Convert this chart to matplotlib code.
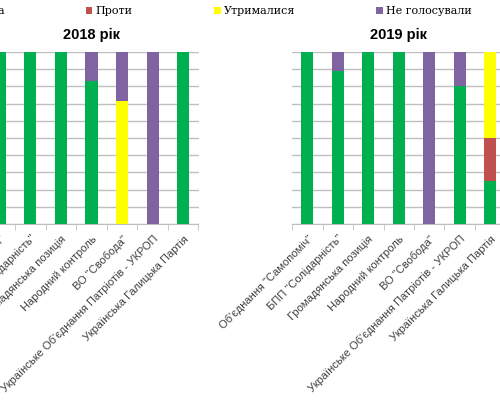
import matplotlib
matplotlib.use("Agg")
import matplotlib.pyplot as plt
import numpy as np

parties = ['Об\'єднання "Самопоміч"', 'БПП "Солідарність"', 'Громадянська позиція',
           'Народний контроль', 'ВО "Свобода"', 'Українське Об\'єднання Патріотів - УКРОП',
           'Українська Галицька Партія']
labels = ['За', 'Проти', 'Утрималися', 'Не голосували']
colors = ['#00B050', '#C0504D', '#FFFF00', '#8064A2']

# shares, %
za_2018 = [100, 100, 100, 83.3, 0, 0, 100]
proty_2018 = [0, 0, 0, 0, 0, 0, 0]
utr_2018 = [0, 0, 0, 0, 71.4, 0, 0]
ne_2018 = [0, 0, 0, 16.7, 28.6, 100, 0]

za_2019 = [100, 88.9, 100, 100, 0, 80, 25]
proty_2019 = [0, 0, 0, 0, 0, 0, 25]
utr_2019 = [0, 0, 0, 0, 0, 0, 50]
ne_2019 = [0, 11.1, 0, 0, 100, 20, 0]

sans = ['Liberation Sans', 'DejaVu Sans']

fig = plt.figure(figsize=(5, 4), dpi=100)
fig.patch.set_facecolor('white')


def draw(ax, series, title):
    x = np.arange(len(parties))
    bottom = np.zeros(len(parties))
    bars = []
    for vals, c, lab in zip(series, colors, labels):
        b = ax.bar(x, vals, 0.4, bottom=bottom, color=c, label=lab, zorder=3)
        bars.append(b)
        bottom += np.array(vals)
    ax.set_xlim(-0.5, len(parties) - 0.5)
    ax.set_ylim(0, 100)
    ax.set_yticks(np.arange(0, 101, 10))
    ax.yaxis.grid(True, color='#BFBFBF', lw=1)
    ax.set_axisbelow(True)
    ax.tick_params(axis='y', left=False, labelleft=False)
    for s in ['left', 'right', 'top']:
        ax.spines[s].set_visible(False)
    ax.spines['bottom'].set_color('#BFBFBF')
    ax.set_xticks(x)
    ax.set_xticklabels(parties, rotation=45, ha='right', va='top',
                       rotation_mode='anchor', family=sans, fontsize=8,
                       color='#404040')
    ax.tick_params(axis='x', length=0, pad=7)
    ax.set_xticks(np.arange(-0.5, len(parties), 1), minor=True)
    ax.tick_params(axis='x', which='minor', length=4, color='#BFBFBF')
    ax.set_title(title, fontweight='bold', fontsize=10.5, family=sans, pad=9)
    return bars


ax1 = fig.add_axes([-15.5 / 500, 176 / 400, 214 / 500, 172 / 400])
bars = draw(ax1, [za_2018, proty_2018, utr_2018, ne_2018], '2018 рік')
ax2 = fig.add_axes([292 / 500, 176 / 400, 213.5 / 500, 172 / 400])
draw(ax2, [za_2019, proty_2019, utr_2019, ne_2019], '2019 рік')

fig.legend(handles=bars, labels=labels, ncol=4, loc='center left',
           bbox_to_anchor=(-19 / 500, 1 - 11 / 400), frameon=False,
           prop={'family': 'DejaVu Serif', 'size': 8},
           handlelength=0.6, handleheight=0.6, handletextpad=0.3,
           columnspacing=7.3, borderpad=0, borderaxespad=0)

fig.savefig('out.png', dpi=100)
